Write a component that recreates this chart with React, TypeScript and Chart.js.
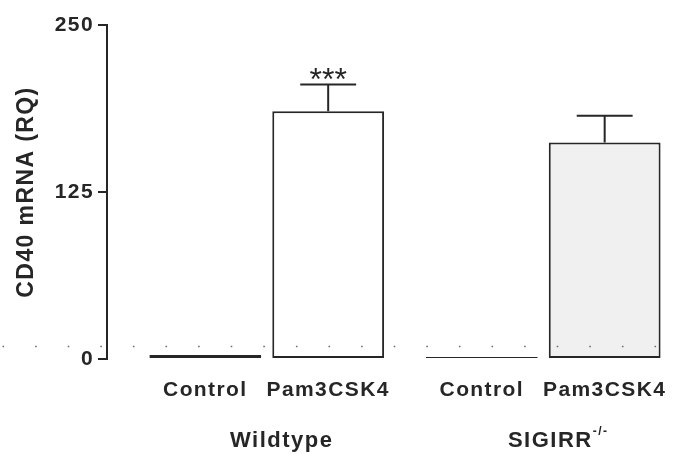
import React, { useEffect, useRef } from 'react';
import { Chart, registerables } from 'chart.js';

Chart.register(...registerables);

// ---- data ----
const categories = ['Control', 'Pam3CSK4', 'Control', 'Pam3CSK4'];
const barPositions = [1, 2, 3.25, 4.25];
const meanValues = [3, 185.5, 1.5, 162];
const errorValues = [0, 20, 0, 20];
const significance = ['', '***', '', ''];
const groupNames = ['Wildtype', 'SIGIRR'];
const groupSuperscripts = ['', '-/-'];
const groupMembers = [[0, 1], [2, 3]];
const yTicks = [0, 125, 250];
const baselineValue = 10;
const barFills = ['#ffffff', '#ffffff', '#ffffff', '#f0f0f0'];

const FONT = '"Liberation Sans", Arial, sans-serif';
const INK = '#262626';

const spacingPlugin = {
  id: 'spacing',
  beforeLayout(chart: any) {
    chart.ctx.letterSpacing = '1.4px';
  },
  beforeDraw(chart: any) {
    chart.ctx.letterSpacing = '1.4px';
  },
};

const decorPlugin = {
  id: 'decor',
  afterDatasetsDraw(chart: any) {
    const ctx = chart.ctx;
    const y = chart.scales.y;
    const x = chart.scales.x;
    const meta = chart.getDatasetMeta(0);

    // dotted baseline across whole figure
    ctx.save();
    const by = Math.round(y.getPixelForValue(baselineValue)) + 0.5;
    ctx.strokeStyle = '#6e6e6e';
    ctx.lineWidth = 1.6;
    ctx.setLineDash([1.6, 31]);
    ctx.lineDashOffset = -2.5;
    ctx.beginPath();
    ctx.moveTo(0, by);
    ctx.lineTo(chart.width, by);
    ctx.stroke();
    ctx.restore();

    // error bars + significance
    ctx.save();
    ctx.strokeStyle = INK;
    ctx.lineWidth = 2;
    meta.data.forEach((el: any, i: number) => {
      if (!errorValues[i]) return;
      const top = y.getPixelForValue(meanValues[i] + errorValues[i]);
      const half = el.width / 4;
      ctx.beginPath();
      ctx.moveTo(el.x, el.y);
      ctx.lineTo(el.x, top);
      ctx.moveTo(el.x - half, top);
      ctx.lineTo(el.x + half, top);
      ctx.stroke();
      if (significance[i]) {
        ctx.fillStyle = INK;
        ctx.font = `32px ${FONT}`;
        ctx.letterSpacing = '0px';
        ctx.textAlign = 'center';
        ctx.textBaseline = 'alphabetic';
        ctx.fillText(significance[i], el.x, top + 6);
      }
    });
    ctx.restore();

    // group labels
    ctx.save();
    ctx.fillStyle = INK;
    ctx.letterSpacing = '1.5px';
    const gy = 441;
    groupNames.forEach((name, g) => {
      const xs = groupMembers[g].map((i) => x.getPixelForValue(barPositions[i]));
      const cx = xs.reduce((a, b) => a + b, 0) / xs.length + 15;
      ctx.font = `bold 22px ${FONT}`;
      const w1 = ctx.measureText(name).width;
      ctx.font = `bold 12px ${FONT}`;
      const sup = groupSuperscripts[g];
      const w2 = sup ? ctx.measureText(sup).width : 0;
      const start = cx - (w1 + w2) / 2;
      ctx.textAlign = 'left';
      ctx.textBaseline = 'middle';
      ctx.font = `bold 22px ${FONT}`;
      ctx.fillText(name, start, gy);
      if (sup) {
        ctx.font = `bold 12px ${FONT}`;
        ctx.fillText(sup, start + w1, gy - 9);
      }
    });
    ctx.restore();
  },
};

export default function App() {
  const ref = useRef<HTMLCanvasElement>(null);

  useEffect(() => {
    if (!ref.current) return;
    const chart = new Chart(ref.current, {
      type: 'bar',
      data: {
        datasets: [
          {
            data: barPositions.map((p, i) => ({ x: p, y: meanValues[i] })),
            backgroundColor: barFills,
            borderColor: INK,
            borderWidth: 2,
            borderSkipped: false,
            barPercentage: 0.91,
            categoryPercentage: 1,
          } as any,
        ],
      },
      options: {
        animation: false,
        responsive: false,
        events: [],
        layout: { padding: { top: 25, right: 0, bottom: 0, left: 0 } },
        plugins: {
          legend: { display: false },
          tooltip: { enabled: false },
          title: { display: false },
        },
        scales: {
          x: {
            type: 'linear',
            offset: false,
            min: 0.2,
            max: 4.92,
            grid: { display: false },
            border: { display: false },
            afterBuildTicks: (s: any) => {
              s.ticks = barPositions.map((v) => ({ value: v }));
            },
            afterFit: (s: any) => {
              s.height = 95;
              s.paddingLeft = 0;
              s.paddingRight = 0;
            },
            ticks: {
              autoSkip: false,
              maxRotation: 0,
              padding: 11,
              color: INK,
              font: { family: FONT, size: 21, weight: 'bold' },
              callback: (_v: any, i: number) => categories[i],
            },
          },
          y: {
            type: 'linear',
            min: 0,
            max: 250,
            afterBuildTicks: (s: any) => {
              s.ticks = yTicks.map((v) => ({ value: v }));
            },
            afterFit: (s: any) => {
              s.width = 107;
            },
            grid: {
              drawOnChartArea: false,
              tickLength: 9,
              color: INK,
              lineWidth: 2,
            },
            border: { display: true, color: INK, width: 2 },
            ticks: {
              padding: 4,
              color: INK,
              font: { family: FONT, size: 21, weight: 'bold' },
            },
            title: {
              display: true,
              text: 'CD40 mRNA (RQ)',
              color: INK,
              padding: { top: 13, bottom: 0 },
              font: { family: FONT, size: 23, weight: 'bold' },
            },
          },
        },
      } as any,
      plugins: [spacingPlugin, decorPlugin],
    });
    return () => chart.destroy();
  }, []);

  return (
    <div style={{ position: 'absolute', left: 0, top: 0, width: 687, height: 454, background: '#fff' }}>
      <canvas ref={ref} width={687} height={454} style={{ display: 'block' }} />
    </div>
  );
}
